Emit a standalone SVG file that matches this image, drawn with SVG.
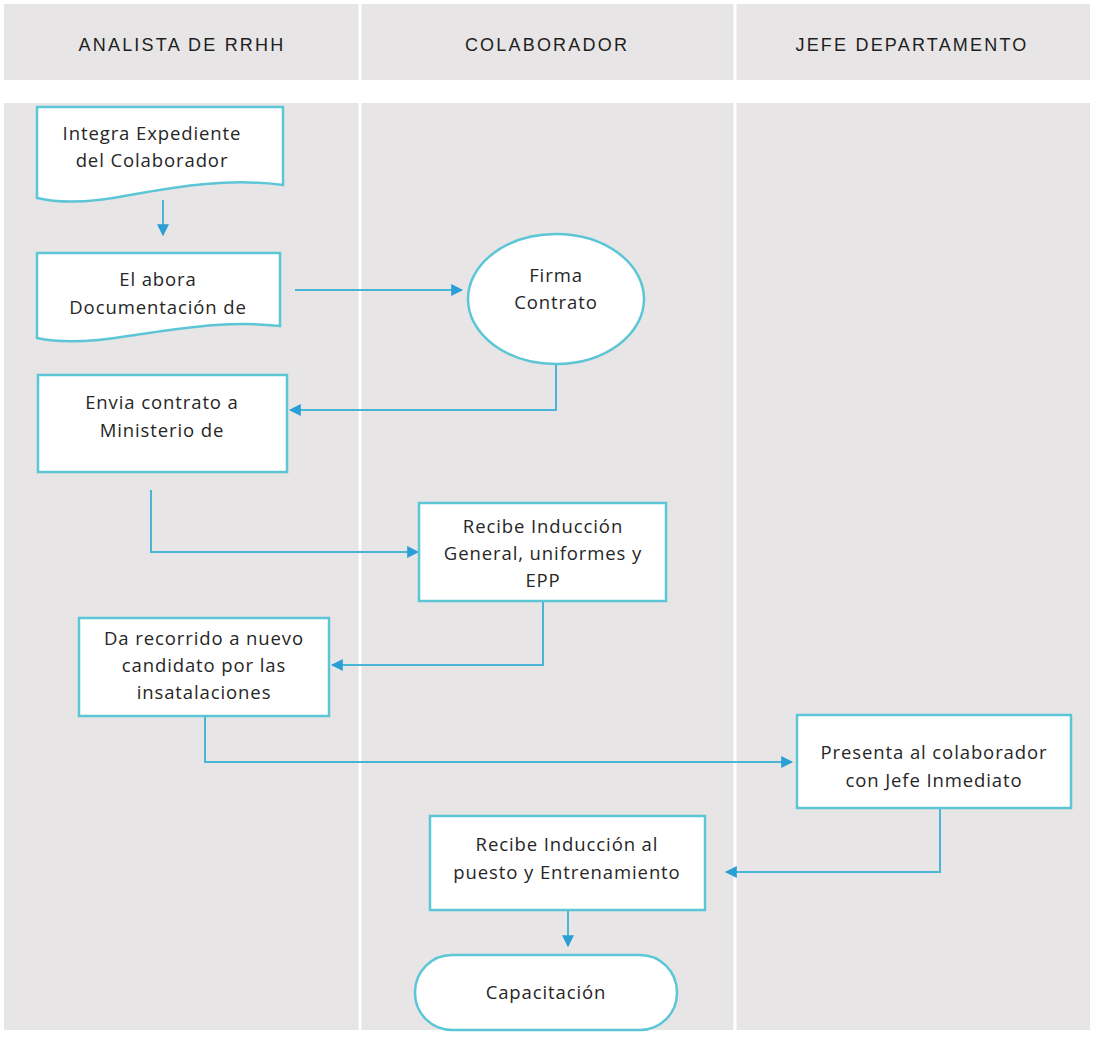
<svg xmlns="http://www.w3.org/2000/svg" width="1093" height="1048" viewBox="0 0 1093 1048">
<defs>
<style>
.lane{fill:#e7e5e5}
.sep{stroke:#ffffff;stroke-width:3}
.hdr{font-family:"Liberation Sans Narrow","Liberation Sans",sans-serif;font-size:18px;fill:#1e1e1e;text-anchor:middle;letter-spacing:2.2px}
.node{fill:#ffffff;stroke:#5cc6d6;stroke-width:2.5}
.t{font-family:"Open Sans","Liberation Sans",sans-serif;font-size:18.5px;fill:#262626;text-anchor:middle;letter-spacing:0.9px}
.con{fill:none;stroke:#4ab6d6;stroke-width:2}
</style>
<marker id="ah" viewBox="0 0 10 10" refX="9" refY="5" markerWidth="6" markerHeight="6" orient="auto" markerUnits="strokeWidth">
<path d="M0,0 L10,5 L0,10 Z" fill="#2a9fd6"/>
</marker>
</defs>
<rect width="1093" height="1048" fill="#ffffff"/>
<g id="lanes">
<rect class="lane" x="4" y="4" width="1086" height="76"/>
<rect class="lane" x="4" y="103" width="1086" height="927"/>
<line class="sep" x1="360" y1="4" x2="360" y2="1030"/>
<line class="sep" x1="735" y1="4" x2="735" y2="1030"/>
<text class="hdr" x="182" y="51">ANALISTA DE RRHH</text>
<text class="hdr" x="547" y="51">COLABORADOR</text>
<text class="hdr" x="912" y="51">JEFE DEPARTAMENTO</text>
</g>
<g id="connectors">
<path class="con" d="M163,200 V235" marker-end="url(#ah)"/>
<path class="con" d="M295,290 H462" marker-end="url(#ah)"/>
<path class="con" d="M556,365 V410 H290" marker-end="url(#ah)"/>
<path class="con" d="M151,490 V552 H418" marker-end="url(#ah)"/>
<path class="con" d="M543,601 V665 H332" marker-end="url(#ah)"/>
<path class="con" d="M205,716 V762 H792" marker-end="url(#ah)"/>
<path class="con" d="M940,808 V872 H726" marker-end="url(#ah)"/>
<path class="con" d="M568,910 V946" marker-end="url(#ah)"/>
</g>
<g id="n1">
<path class="node" d="M37,107 H283 V185 C230,178 180,186 130,195 C95,202 62,204 37,198 Z"/>
<text class="t" x="152" y="140">Integra Expediente</text>
<text class="t" x="152" y="167">del Colaborador</text>
</g>
<g id="n2">
<path class="node" d="M37,253 H280 V326 C228,320 178,329 128,336 C92,342 60,343 37,338 Z"/>
<text class="t" x="158" y="286">El abora</text>
<text class="t" x="158" y="314">Documentación de</text>
</g>
<g id="n3">
<ellipse class="node" cx="556" cy="299" rx="88" ry="65"/>
<text class="t" x="556" y="282">Firma</text>
<text class="t" x="556" y="309">Contrato</text>
</g>
<g id="n4">
<rect class="node" x="38" y="375" width="249" height="97"/>
<text class="t" x="162" y="409">Envia contrato a</text>
<text class="t" x="162" y="437">Ministerio de</text>
</g>
<g id="n5">
<rect class="node" x="419" y="503" width="247" height="98"/>
<text class="t" x="543" y="533">Recibe Inducción</text>
<text class="t" x="543" y="560">General, uniformes y</text>
<text class="t" x="543" y="587">EPP</text>
</g>
<g id="n6">
<rect class="node" x="79" y="618" width="250" height="98"/>
<text class="t" x="204" y="645">Da recorrido a nuevo</text>
<text class="t" x="204" y="672">candidato por las</text>
<text class="t" x="204" y="699">insatalaciones</text>
</g>
<g id="n7">
<rect class="node" x="797" y="715" width="274" height="93"/>
<text class="t" x="934" y="759">Presenta al colaborador</text>
<text class="t" x="934" y="787">con Jefe Inmediato</text>
</g>
<g id="n8">
<rect class="node" x="430" y="816" width="275" height="94"/>
<text class="t" x="567" y="851">Recibe Inducción al</text>
<text class="t" x="567" y="879">puesto y Entrenamiento</text>
</g>
<g id="n9">
<rect class="node" x="415" y="955" width="262" height="75" rx="37" ry="37"/>
<text class="t" x="546" y="999">Capacitación</text>
</g>
</svg>
